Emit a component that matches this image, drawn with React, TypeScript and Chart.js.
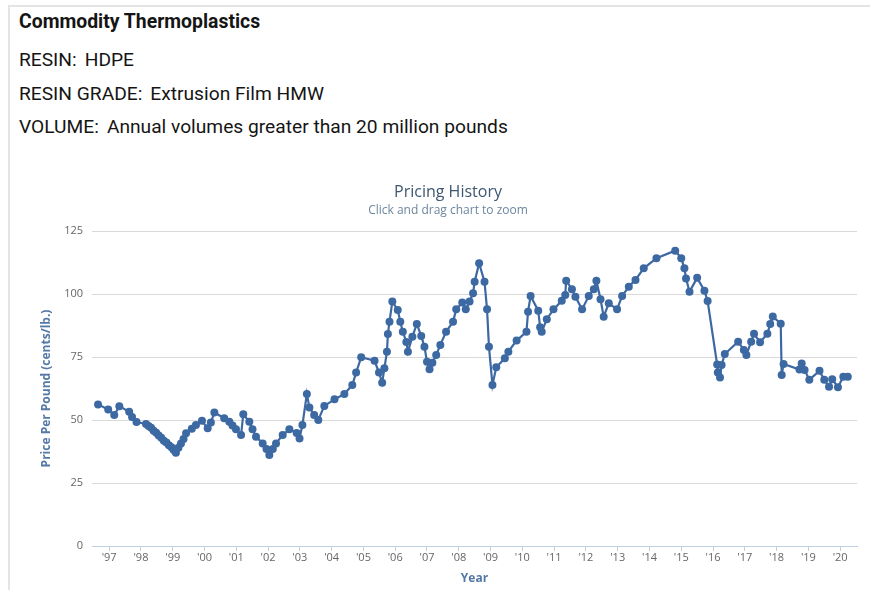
import React, { useEffect, useRef } from "react";
import { Chart, registerables } from "chart.js";

Chart.register(...registerables);

// Decimal-year dates of each price observation
const dates: number[] = [
  1996.65, 1996.97, 1997.16, 1997.32, 1997.63, 1997.72, 1997.86, 1998.16, 1998.24, 1998.32,
  1998.4, 1998.48, 1998.56, 1998.64, 1998.72, 1998.8, 1998.88, 1998.96, 1999.03, 1999.1,
  1999.18, 1999.26, 1999.34, 1999.42, 1999.6, 1999.73, 1999.92, 2000.1, 2000.2, 2000.31,
  2000.62, 2000.78, 2000.88, 2000.99, 2001.15, 2001.22, 2001.41, 2001.51, 2001.62, 2001.83,
  2001.95, 2002.04, 2002.15, 2002.25, 2002.46, 2002.67, 2002.9, 2002.99, 2003.08, 2003.22,
  2003.3, 2003.45, 2003.58, 2003.77, 2004.09, 2004.4, 2004.65, 2004.77, 2004.93, 2005.35,
  2005.49, 2005.59, 2005.66, 2005.74, 2005.77, 2005.82, 2005.91, 2006.08, 2006.16, 2006.24,
  2006.35, 2006.4, 2006.54, 2006.68, 2006.82, 2006.92, 2007.0, 2007.08, 2007.17, 2007.29,
  2007.42, 2007.6, 2007.82, 2007.92, 2008.11, 2008.22, 2008.34, 2008.45, 2008.5, 2008.64,
  2008.81, 2008.89, 2008.95, 2009.06, 2009.18, 2009.45, 2009.56, 2009.82, 2010.13, 2010.18,
  2010.26, 2010.5, 2010.56, 2010.61, 2010.77, 2010.98, 2011.24, 2011.35, 2011.38, 2011.56,
  2011.67, 2011.88, 2012.09, 2012.25, 2012.33, 2012.46, 2012.56, 2012.72, 2012.98, 2013.14,
  2013.35, 2013.56, 2013.82, 2014.22, 2014.81, 2015.0, 2015.1, 2015.15, 2015.26, 2015.5,
  2015.73, 2015.83, 2016.13, 2016.15, 2016.22, 2016.27, 2016.37, 2016.79, 2016.97, 2017.05,
  2017.2, 2017.29, 2017.48, 2017.71, 2017.8, 2017.88, 2018.13, 2018.16, 2018.22, 2018.72,
  2018.79, 2018.88, 2019.03, 2019.35, 2019.5, 2019.65, 2019.75, 2019.93, 2020.1, 2020.24,
];

// Price per pound (cents/lb.)
const prices: number[] = [
  56.2, 54.2, 52.0, 55.5, 53.3, 51.2, 49.2, 48.4, 47.6, 46.9,
  45.7, 44.9, 43.8, 43.0, 41.8, 41.1, 40.0, 39.2, 38.1, 37.0,
  39.0, 40.7, 42.5, 44.7, 46.5, 48.0, 49.7, 46.7, 49.0, 53.0,
  50.7, 49.3, 47.8, 46.3, 44.0, 52.3, 49.3, 46.3, 43.4, 40.7,
  38.5, 36.1, 38.5, 40.7, 44.0, 46.3, 44.8, 42.7, 48.0, 60.3,
  55.0, 52.0, 50.0, 55.6, 58.2, 60.3, 63.9, 68.8, 74.9, 73.5,
  68.8, 64.8, 70.5, 77.1, 84.1, 89.0, 97.0, 93.7, 89.0, 85.0,
  81.0, 77.1, 83.0, 88.1, 83.3, 79.1, 73.1, 70.1, 72.7, 75.8,
  79.8, 85.0, 89.0, 93.9, 96.6, 93.9, 97.0, 100.3, 104.9, 112.2,
  104.9, 93.9, 79.1, 63.9, 70.9, 74.5, 77.1, 81.5, 85.0, 93.0,
  99.2, 93.4, 86.8, 85.0, 90.0, 93.9, 97.3, 99.6, 105.3, 101.9,
  98.9, 93.9, 99.2, 101.9, 105.3, 97.9, 91.0, 96.3, 93.9, 99.2,
  102.9, 105.6, 110.2, 114.2, 117.2, 114.2, 110.2, 106.2, 100.9, 106.4,
  101.3, 97.2, 72.0, 68.8, 66.9, 71.8, 76.2, 81.1, 77.8, 75.8,
  81.1, 84.2, 80.9, 84.2, 88.1, 91.1, 88.2, 67.9, 72.2, 70.0,
  72.4, 69.8, 66.0, 69.5, 66.0, 63.2, 66.2, 63.0, 67.2, 67.2,
];

const xTickYears: number[] = [
  1997, 1998, 1999, 2000, 2001, 2002, 2003, 2004, 2005, 2006, 2007, 2008,
  2009, 2010, 2011, 2012, 2013, 2014, 2015, 2016, 2017, 2018, 2019, 2020,
];
const yTickValues: number[] = [0, 25, 50, 75, 100, 125];

const headerLines: { label: string; value: string }[] = [
  { label: "RESIN:", value: "HDPE" },
  { label: "RESIN GRADE:", value: "Extrusion Film HMW" },
  { label: "VOLUME:", value: "Annual volumes greater than 20 million pounds" },
];

const LINE_COLOR = "#3d69a3";

export default function App() {
  const canvasRef = useRef<HTMLCanvasElement | null>(null);

  useEffect(() => {
    document.body.style.margin = "0";
    document.body.style.overflow = "hidden";
    const canvas = canvasRef.current;
    if (!canvas) return;
    const chart = new Chart(canvas, {
      type: "line",
      data: {
        datasets: [
          {
            label: "Price",
            data: dates.map((d, i) => ({ x: d, y: prices[i] })),
            borderColor: LINE_COLOR,
            backgroundColor: LINE_COLOR,
            pointBackgroundColor: LINE_COLOR,
            pointBorderColor: LINE_COLOR,
            pointBorderWidth: 0,
            pointRadius: 4,
            borderWidth: 2.2,
            tension: 0,
            fill: false,
          },
        ],
      },
      options: {
        animation: false,
        responsive: true,
        maintainAspectRatio: false,
        layout: { padding: { left: 39, right: 13, top: 0, bottom: 0 } },
        plugins: {
          legend: { display: false },
          tooltip: { enabled: false },
          title: {
            display: true,
            text: "Pricing History",
            color: "#3E576F",
            font: { family: "'Open Sans'", size: 16, weight: "normal" },
            padding: { top: 22.4, bottom: 0 },
          },
          subtitle: {
            display: true,
            text: "Click and drag chart to zoom",
            color: "#6D869F",
            font: { family: "'Open Sans'", size: 12, weight: "normal" },
            padding: { top: 2.2, bottom: 12.8 },
          },
        },
        scales: {
          x: {
            type: "linear",
            min: 1996.46,
            max: 2020.53,
            afterBuildTicks: (scale: any) => {
              scale.ticks = xTickYears.map((v) => ({ value: v }));
            },
            afterFit: (scale: any) => {
              scale.height = 44;
            },
            ticks: {
              autoSkip: false,
              maxRotation: 0,
              minRotation: 0,
              padding: 0,
              color: "#666",
              font: { family: "'Open Sans'", size: 11 },
              callback: (v: any) => "'" + String(v).slice(2),
            },
            grid: {
              drawOnChartArea: false,
              drawTicks: true,
              tickLength: 5,
              tickColor: "#C0D0E0",
            },
            border: { display: true, color: "#C0D0E0", width: 1 },
            title: {
              display: true,
              text: "Year",
              color: "#5479a6",
              font: { family: "'Open Sans'", size: 12, weight: "bold" },
              padding: { top: 0, bottom: 4 },
            },
          },
          y: {
            min: 0,
            max: 125,
            afterBuildTicks: (scale: any) => {
              scale.ticks = yTickValues.map((v) => ({ value: v }));
            },
            afterFit: (scale: any) => {
              scale.width = 53;
            },
            ticks: {
              padding: 9,
              color: "#666",
              font: { family: "'Open Sans'", size: 11 },
            },
            grid: {
              color: "#d9d9d9",
              drawTicks: false,
              lineWidth: 1,
            },
            border: { display: false },
            title: {
              display: true,
              text: "Price Per Pound (cents/lb.)",
              color: "#5479a6",
              font: { family: "'Open Sans'", size: 12, weight: "bold" },
              padding: { top: 0, bottom: 0 },
            },
          },
        },
      },
    } as any);
    return () => chart.destroy();
  }, []);

  const labelStyle: React.CSSProperties = { marginRight: 8 };

  return (
    <div
      style={{
        position: "relative",
        width: 870,
        height: 590,
        overflow: "hidden",
        background: "#fff",
        fontFamily: "Roboto, 'Noto Sans', sans-serif",
        color: "#151515",
      }}
    >
      <div
        style={{
          position: "absolute",
          left: 8,
          top: 5,
          width: 900,
          height: 700,
          border: "2px solid #e4e4e4",
          boxSizing: "border-box",
        }}
      />
      <div
        style={{
          position: "absolute",
          left: 19,
          top: 11,
          fontSize: 19.4,
          lineHeight: "21px",
          fontWeight: 700,
          whiteSpace: "nowrap",
        }}
      >
        Commodity Thermoplastics
      </div>
      {headerLines.map((h, i) => (
        <div
          key={h.label}
          style={{
            position: "absolute",
            left: 19,
            top: 49 + i * 33.5,
            fontSize: 19.2,
            lineHeight: "21px",
            whiteSpace: "nowrap",
          }}
        >
          <span style={labelStyle}>{h.label}</span>
          <span>{h.value}</span>
        </div>
      ))}
      <div style={{ position: "absolute", left: 0, top: 160, width: 870, height: 430 }}>
        <canvas ref={canvasRef} />
      </div>
    </div>
  );
}
